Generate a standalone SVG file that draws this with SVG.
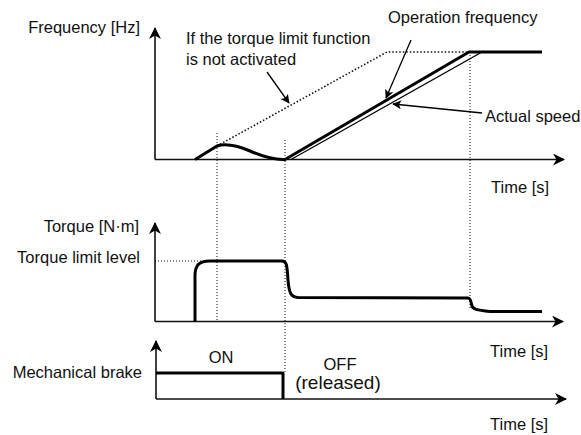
<svg xmlns="http://www.w3.org/2000/svg" width="581" height="435" viewBox="0 0 581 435">
  <style>
    text { font-family: "Liberation Sans", Arial, sans-serif; font-size: 16.5px; fill: #111; }
    .end { text-anchor: end; }
    .axis { fill: none; stroke: #111; stroke-width: 1.6; }
    .curve { fill: none; stroke: #000; stroke-width: 3; stroke-linejoin: round; stroke-linecap: butt; }
    .thin { fill: none; stroke: #000; stroke-width: 1.4; }
    .guide { fill: none; stroke: #111; stroke-width: 1; stroke-dasharray: 1 2; }
    .dots { fill: none; stroke: #111; stroke-width: 1.6; stroke-dasharray: 1.5 2; }
    .leader { fill: none; stroke: #000; stroke-width: 1.3; }
  </style>
  <defs>
    <marker id="axisHead" viewBox="0 0 12 12" refX="11" refY="6" markerWidth="13" markerHeight="12" orient="auto" markerUnits="userSpaceOnUse">
      <path d="M0,0 L12,6 L0,12 L3.5,6 z" fill="#000"/>
    </marker>
    <marker id="leaderHead" viewBox="0 0 12 12" refX="11" refY="6" markerWidth="11" markerHeight="9" orient="auto" markerUnits="userSpaceOnUse">
      <path d="M0,0 L12,6 L0,12 L3,6 z" fill="#000"/>
    </marker>
  </defs>

  <!-- vertical timing guides shared by the three charts -->
  <g id="guides">
    <line class="guide" x1="217" y1="133" x2="217" y2="321"/>
    <line class="guide" x1="285" y1="140" x2="285" y2="373"/>
    <line class="guide" x1="470" y1="52" x2="470" y2="310"/>
  </g>

  <!-- frequency chart -->
  <g id="frequency-chart">
    <line class="axis" x1="155" y1="159.5" x2="155" y2="28" marker-end="url(#axisHead)"/>
    <line class="axis" x1="155" y1="159.5" x2="564" y2="159.5" marker-end="url(#axisHead)"/>
    <text class="end" x="140" y="33">Frequency [Hz]</text>
    <text x="491" y="193">Time [s]</text>
    <!-- ramp without torque limiting -->
    <path class="dots" d="M217,146 L387,52 L469,52"/>
    <!-- output frequency with torque limiting -->
    <path class="curve" d="M195,159.5 L217,146 C226,143 236,145 250,151 C266,158 276,160 285,159.5 L469,52 L542,52"/>
    <!-- actual motor speed -->
    <path class="thin" d="M291,159.5 L482,52"/>
    <text x="186" y="44">If the torque limit function</text>
    <text x="186" y="65">is not activated</text>
    <text x="388" y="23">Operation frequency</text>
    <text x="485" y="122">Actual speed</text>
  </g>

  <!-- torque chart -->
  <g id="torque-chart">
    <line class="axis" x1="155" y1="321.5" x2="155" y2="223" marker-end="url(#axisHead)"/>
    <line class="axis" x1="155" y1="321.5" x2="563" y2="321.5" marker-end="url(#axisHead)"/>
    <text class="end" x="139" y="232">Torque [N·m]</text>
    <text class="end" x="140" y="263">Torque limit level</text>
    <text x="490" y="357">Time [s]</text>
    <line class="guide" x1="155" y1="261" x2="217" y2="261"/>
    <path class="curve" d="M195,321.5 L195,276 C195,265 199,261 210,261 L282,261 C287,261 287,266 288,280 C289,293 291,297 298,297.5 L468,298 C471,298 471,303 472,306 C473,309 476,310 490,311.5 L542,311.5"/>
  </g>

  <!-- mechanical brake chart -->
  <g id="brake-chart">
    <line class="axis" x1="156" y1="399" x2="156" y2="341" marker-end="url(#axisHead)"/>
    <line class="axis" x1="156" y1="399" x2="566" y2="399" marker-end="url(#axisHead)"/>
    <text class="end" x="142" y="378">Mechanical brake</text>
    <text x="490" y="430">Time [s]</text>
    <path class="curve" d="M156,373 L283,373 L283,399"/>
    <text x="221" y="363" text-anchor="middle">ON</text>
    <text x="340" y="370" text-anchor="middle">OFF</text>
    <text x="338" y="389" text-anchor="middle" style="font-size:19px">(released)</text>
  </g>

  <!-- annotation leaders -->
  <g id="connectors">
    <line class="leader" x1="267" y1="72" x2="289" y2="103" marker-end="url(#leaderHead)"/>
    <line class="leader" x1="411" y1="40" x2="386" y2="98" marker-end="url(#leaderHead)"/>
    <line class="leader" x1="482" y1="113" x2="393" y2="104" marker-end="url(#leaderHead)"/>
  </g>
</svg>
